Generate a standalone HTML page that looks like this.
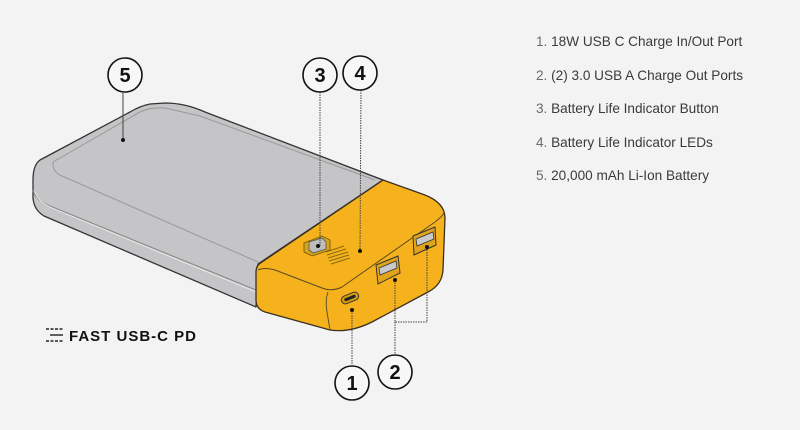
<!DOCTYPE html>
<html><head><meta charset="utf-8"><style>
body{margin:0;background:#f3f3f3;}
svg{display:block}
.t{font-family:"Liberation Sans",sans-serif;font-size:13.6px;fill:#3a3a3a}
.n{fill:#6a6a6a}
.c{font-family:"Liberation Sans",sans-serif;font-size:20px;font-weight:bold;fill:#111;text-anchor:middle}
</style></head><body>
<svg width="800" height="430" viewBox="0 0 800 430" xmlns="http://www.w3.org/2000/svg">
<rect width="800" height="430" fill="#f3f3f3"/>
<!-- gray body -->
<path d="M40,160 Q33,165 33,180 L33,198 Q34,210 44,216 L256,307 L258,264 L383,180 L205,112 Q185,103 165,103 L150,104 Q140,106 130,112 Z" fill="#c5c5c7" stroke="#333" stroke-width="1.3" stroke-linejoin="round"/>
<path d="M33,190 Q35,200 50,206 L256,290" fill="none" stroke="#888" stroke-width="1"/>
<path d="M35,192 Q38,202 52,208 L256,292" fill="none" stroke="#eee" stroke-width="0.8"/>
<path d="M53,162 Q52,172 62,176 L258,262 M53,162 L140,112 Q150,107 165,108 L200,116 L375,180" fill="none" stroke="#999" stroke-width="1"/>
<!-- yellow cap -->
<path d="M383,180 L425,195 Q445,203 445,218 L443,270 Q442,285 428,292 L372,322 Q350,333 330,330 L265,312 Q256,309 256,300 L256,272 Q256,265 262,262 Z" fill="#f5b21c" stroke="#3a3020" stroke-width="1.3" stroke-linejoin="round"/>
<path d="M258,270 Q264,267 275,270 L322,288 Q332,292 342,287 L435,222 Q444,215 444,212" fill="none" stroke="#5a4a20" stroke-width="1"/>
<path d="M328,292 Q325,300 327,312 L330,330" fill="none" stroke="#5a4a20" stroke-width="0.9"/>
<!-- button & LEDs -->
<path d="M304,243 L322,236 L330,240 L330,250 L312,256 L304,252 Z" fill="#d4a319" stroke="#6b5514" stroke-width="0.8"/>
<path d="M309,242 L322,238 L326,242 L326,249 L313,253 L309,250 Z" fill="#bdbdbd" stroke="#555" stroke-width="0.8"/>
<g stroke="#8a6a10" stroke-width="1">
<line x1="326" y1="252" x2="344" y2="246"/><line x1="327" y1="255" x2="346" y2="249"/><line x1="328" y1="258" x2="348" y2="252"/><line x1="329" y1="261" x2="349" y2="255"/><line x1="331" y1="264" x2="350" y2="258"/>
</g>
<!-- ports -->
<g transform="rotate(-22 350 298)"><rect x="341" y="294" width="18" height="8" rx="4" fill="#d79e12" stroke="#333" stroke-width="1"/><rect x="344" y="296.5" width="12" height="3" rx="1.5" fill="#222"/></g>
<path d="M376,265 L398,256 L400,273 L378,284 Z" fill="#e0a41a" stroke="#333" stroke-width="1"/>
<path d="M379,268 L396,261 L397,268 L380,275 Z" fill="#c9c9c9" stroke="#333" stroke-width="0.8"/>
<path d="M413,236 L435,227 L436,245 L414,255 Z" fill="#e0a41a" stroke="#333" stroke-width="1"/>
<path d="M416,239 L433,232 L434,239 L417,246 Z" fill="#c9c9c9" stroke="#333" stroke-width="0.8"/>
<!-- leaders -->
<g stroke="#444" stroke-width="1" stroke-dasharray="1.5,1" fill="none">
<line x1="320" y1="92" x2="320" y2="246"/>
<line x1="361" y1="90" x2="360" y2="251"/>
<line x1="352" y1="310" x2="352" y2="365"/>
<polyline points="395,280 395,322 427,322 427,247"/>
<line x1="395" y1="322" x2="395" y2="354"/>
</g>
<line x1="123" y1="93" x2="123" y2="140" stroke="#444" stroke-width="1"/>
<g fill="#111"><circle cx="123" cy="140" r="2"/><circle cx="318" cy="246" r="2"/><circle cx="360" cy="251" r="2"/><circle cx="352" cy="310" r="2"/><circle cx="395" cy="280" r="2"/><circle cx="427" cy="247" r="2"/></g>
<!-- callout circles -->
<g fill="#f7f7f7" stroke="#111" stroke-width="1.6">
<circle cx="125" cy="75" r="17"/><circle cx="320" cy="75" r="17"/><circle cx="360" cy="73" r="17"/><circle cx="352" cy="383" r="17"/><circle cx="395" cy="372" r="17"/>
</g>
<text class="c" x="125" y="82">5</text><text class="c" x="320" y="82">3</text><text class="c" x="360" y="80">4</text><text class="c" x="352" y="390">1</text><text class="c" x="395" y="379">2</text>
<!-- fast usb-c -->
<g stroke="#222" stroke-width="1.4"><line x1="46" y1="329" x2="63" y2="329" stroke-dasharray="3,1.5"/><line x1="50" y1="335" x2="63" y2="335"/><line x1="46" y1="341" x2="63" y2="341" stroke-dasharray="3,1.5"/></g>
<text x="69" y="341" textLength="127" style="font-family:'Liberation Sans',sans-serif;font-weight:bold;font-size:15px;fill:#111">FAST USB-C PD</text>
<!-- legend -->
<text class="t" x="536" y="46"><tspan class="n">1.</tspan> 18W USB C Charge In/Out Port</text>
<text class="t" x="536" y="80"><tspan class="n">2.</tspan> (2) 3.0 USB A Charge Out Ports</text>
<text class="t" x="536" y="113"><tspan class="n">3.</tspan> Battery Life Indicator Button</text>
<text class="t" x="536" y="147"><tspan class="n">4.</tspan> Battery Life Indicator LEDs</text>
<text class="t" x="536" y="180"><tspan class="n">5.</tspan> 20,000 mAh Li-Ion Battery</text>
</svg>
</body></html>
